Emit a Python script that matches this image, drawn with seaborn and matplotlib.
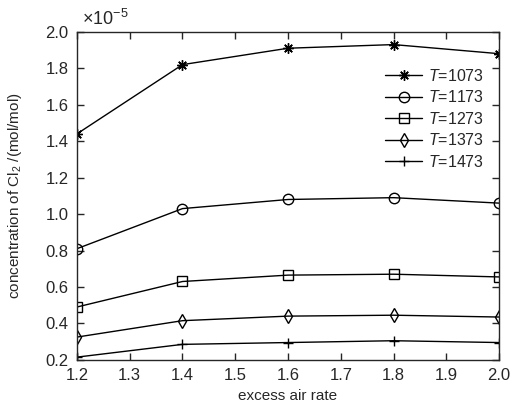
import pandas as pd
import matplotlib
matplotlib.use("Agg")
import matplotlib.pyplot as plt
import seaborn as sns

air_rate = [1.2, 1.4, 1.6, 1.8, 2.0]
temps = ["1073", "1173", "1273", "1373", "1473"]
# Cl2 concentration, in units of 1e-5 mol/mol
cl2_1073 = [1.44, 1.82, 1.91, 1.93, 1.88]
cl2_1173 = [0.81, 1.03, 1.08, 1.09, 1.06]
cl2_1273 = [0.49, 0.63, 0.665, 0.67, 0.655]
cl2_1373 = [0.325, 0.415, 0.44, 0.445, 0.435]
cl2_1473 = [0.215, 0.285, 0.295, 0.305, 0.295]
markers = [(8, 2, 0), "o", "s", "d", "+"]

series = [cl2_1073, cl2_1173, cl2_1273, cl2_1373, cl2_1473]
df = pd.DataFrame({
    "rate": air_rate * len(temps),
    "cl2": [v for s in series for v in s],
    "T": [t for t in temps for _ in air_rate],
})

sns.set_style("ticks")
plt.rcParams["font.family"] = ["Liberation Sans", "DejaVu Sans"]
plt.rcParams["mathtext.fontset"] = "custom"
plt.rcParams["mathtext.rm"] = "Liberation Sans"
plt.rcParams["mathtext.it"] = "Liberation Sans:italic"

fig = plt.figure(figsize=(5.13, 4.08), dpi=100)
ax = fig.add_axes([0.150, 0.118, 0.823, 0.804])

for t, m in zip(temps, markers):
    sub = df[df["T"] == t]
    sns.lineplot(data=sub, x="rate", y="cl2", ax=ax, color="black",
                 linewidth=1.0, marker=m, markersize=7.5,
                 markerfacecolor="none" if m in ("o", "s", "d") else "black",
                 markeredgecolor="black", markeredgewidth=1.0,
                 label=r"$T$=" + t)

ax.set_xlim(1.2, 2.0)
ax.set_ylim(0.2, 2.0)
ax.set_xticks([1.2, 1.3, 1.4, 1.5, 1.6, 1.7, 1.8, 1.9, 2.0])
ax.set_yticks([0.2, 0.4, 0.6, 0.8, 1.0, 1.2, 1.4, 1.6, 1.8, 2.0])
ax.set_xticklabels([f"{v:.1f}" for v in ax.get_xticks()])
ax.set_yticklabels([f"{v:.1f}" for v in ax.get_yticks()])
ax.tick_params(direction="in", top=True, right=True, labelsize=12,
               length=5, width=1)
ax.tick_params(axis="y", pad=6)
ax.tick_params(axis="x", pad=6)
for sp in ax.spines.values():
    sp.set_linewidth(1.0)

ax.set_xlabel("excess air rate", fontsize=11, labelpad=4)
ax.set_ylabel(r"concentration of Cl$_2$ /(mol/mol)", fontsize=11)
ax.yaxis.set_label_coords(-0.125, 0.5)
ax.text(0.012, 1.008, r"$\times$10$^{-5}$", transform=ax.transAxes,
        fontsize=13, ha="left", va="bottom")

ax.legend(loc="upper right", bbox_to_anchor=(0.965, 0.89), frameon=False,
          fontsize=11.5, handlelength=2.3, handletextpad=0.4,
          labelspacing=0.34, borderaxespad=0, borderpad=0)

fig.savefig("out.png", dpi=100)
